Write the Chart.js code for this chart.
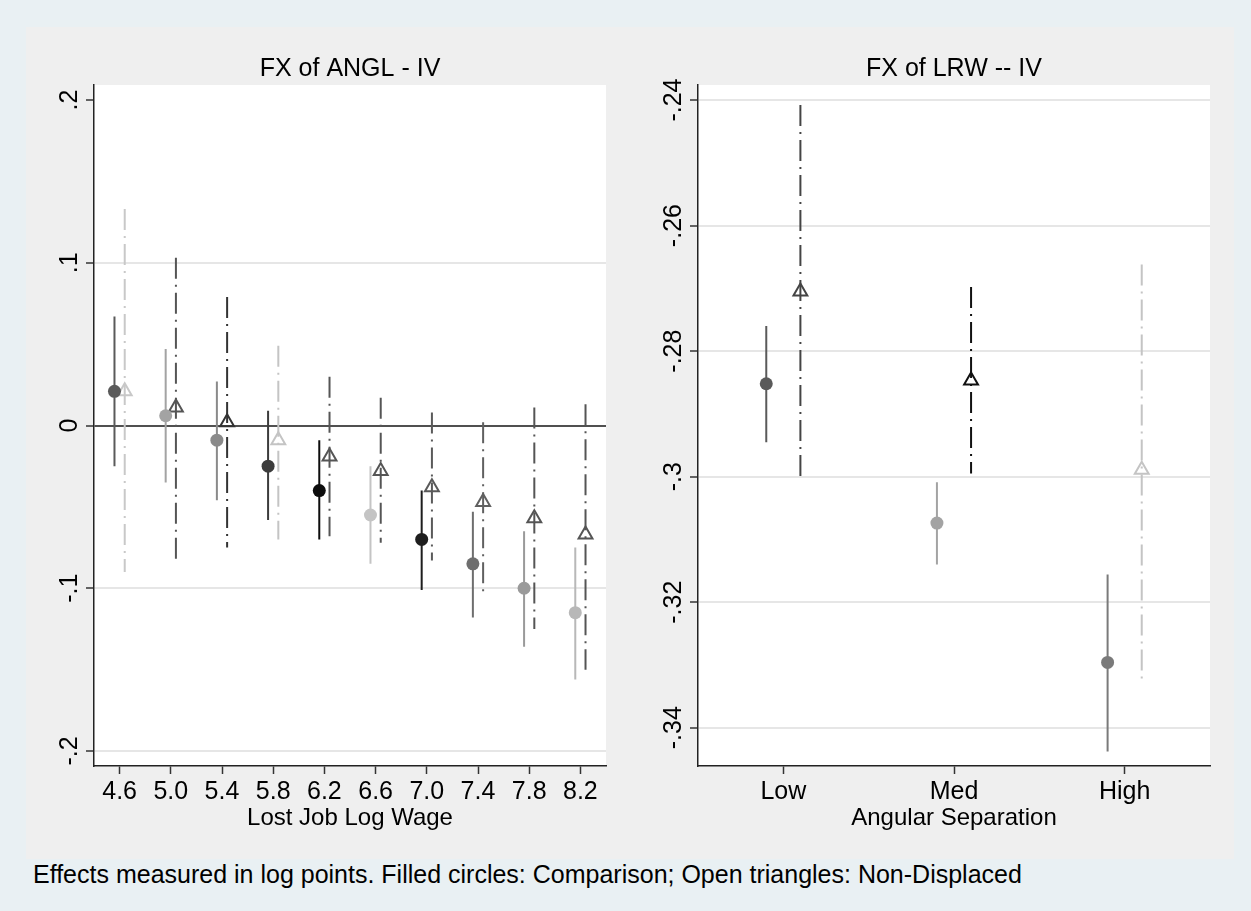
<!DOCTYPE html>
<html>
<head>
<meta charset="utf-8">
<script src="https://cdn.jsdelivr.net/npm/chart.js@4.4.1/dist/chart.umd.min.js"></script>
<style>
  html, body { margin: 0; padding: 0; background: #e9f0f3; width: 1251px; height: 911px; overflow: hidden; }
  #panel { position: absolute; left: 26px; top: 27px; width: 1208px; height: 832px; background: #efefef; }
  .box { position: absolute; top: 27px; height: 832px; }
  #boxL { left: 26px; width: 626px; }
  #boxR { left: 652px; width: 582px; }
  #note { position: absolute; left: 33px; top: 862px; font: 25px "Liberation Sans", Arial, sans-serif; line-height: 25px; color: #000; white-space: nowrap; }
</style>
</head>
<body>
<div id="panel"></div>
<div class="box" id="boxL"><canvas id="chartL"></canvas></div>
<div class="box" id="boxR"><canvas id="chartR"></canvas></div>
<div id="note">Effects measured in log points. Filled circles: Comparison; Open triangles: Non-Displaced</div>
<script>
/* Dữ liệu: bảng trái (theo lương), bảng phải (theo góc) */
const leftX = [4.6, 5.0, 5.4, 5.8, 6.2, 6.6, 7.0, 7.4, 7.8, 8.2];
const leftXTicks = [4.6, 5.0, 5.4, 5.8, 6.2, 6.6, 7.0, 7.4, 7.8, 8.2];
const leftYTicks = [-0.2, -0.1, 0, 0.1, 0.2];
const leftYLabels = ['-.2', '-.1', '0', '.1', '.2'];

const leftCmpEst = [0.021, 0.006, -0.009, -0.025, -0.040, -0.055, -0.070, -0.085, -0.100, -0.115];
const leftCmpLo  = [-0.025, -0.035, -0.046, -0.058, -0.070, -0.085, -0.101, -0.118, -0.136, -0.156];
const leftCmpHi  = [0.067, 0.047, 0.027, 0.009, -0.009, -0.025, -0.040, -0.053, -0.065, -0.075];
const leftNdEst  = [0.021, 0.011, 0.002, -0.009, -0.019, -0.028, -0.038, -0.047, -0.057, -0.067];
const leftNdLo   = [-0.090, -0.082, -0.075, -0.070, -0.068, -0.072, -0.083, -0.102, -0.125, -0.150];
const leftNdHi   = [0.133, 0.103, 0.079, 0.049, 0.030, 0.017, 0.008, 0.002, 0.011, 0.013];

const rightX = [1, 2, 3];
const rightXLabels = ['Low', 'Med', 'High'];
const rightYTicks = [-0.34, -0.32, -0.30, -0.28, -0.26, -0.24];
const rightYLabels = ['-.34', '-.32', '-.3', '-.28', '-.26', '-.24'];

const rightCmpEst = [-0.2852, -0.3074, -0.3296];
const rightCmpLo  = [-0.2945, -0.3140, -0.3438];
const rightCmpHi  = [-0.2760, -0.3009, -0.3156];
const rightNdEst  = [-0.2705, -0.2847, -0.2989];
const rightNdLo   = [-0.3001, -0.2995, -0.3327];
const rightNdHi   = [-0.2408, -0.2698, -0.2662];

/* Màu từng điểm */
const leftCmpColors = ['#5a5a5a', '#a3a3a3', '#8a8a8a', '#3c3c3c', '#0d0d0d', '#c4c4c4', '#1e1e1e', '#6e6e6e', '#9a9a9a', '#b8b8b8'];
const leftNdColors  = ['#c8c8c8', '#555555', '#333333', '#c4c4c4', '#555555', '#555555', '#5a5a5a', '#606060', '#555555', '#555555'];
const rightCmpColors = ['#5a5a5a', '#a3a3a3', '#7a7a7a'];
const rightNdColors  = ['#444444', '#111111', '#c4c4c4'];

const FONT = '"Liberation Sans", Arial, sans-serif';
const DASHDOT = [21, 6, 2, 6];

// Đoạn CI: mỗi điểm một dataset đường thẳng đứng
const ciSets = (xs, off, lo, hi, colors, dash) => xs.map((x, i) => ({
    type: 'line', data: [{ x: x + off, y: hi[i] }, { x: x + off, y: lo[i] }],
    borderColor: colors[i], borderWidth: 2, borderDash: dash, borderCapStyle: 'butt',
    pointRadius: 0, fill: false, order: 3
}));

const pts = (xs, off, ys) => xs.map((x, i) => ({ x: x + off, y: ys[i] }));

/* Chữ: tiêu đề, nhãn trục y xoay dọc, tên trục x */
const textPlugin = {
    id: 'panelText',
    afterDraw(chart, args, opts) {
        const { ctx, chartArea: a } = chart;
        const ys = chart.scales.y;
        ctx.save();
        ctx.fillStyle = '#000';
        ctx.textAlign = 'center';
        ctx.textBaseline = 'alphabetic';
        ctx.font = '25px ' + FONT;
        ctx.fillText(opts.title, (a.left + a.right) / 2, a.top - 9);
        ctx.font = '24px ' + FONT;
        ctx.fillText(opts.xTitle, (a.left + a.right) / 2, a.bottom + 59);
        ctx.font = '25px ' + FONT;
        opts.yTicks.forEach((v, i) => {
            ctx.save();
            ctx.translate(a.left - 17, ys.getPixelForValue(v));
            ctx.rotate(-Math.PI / 2);
            ctx.fillText(opts.yLabels[i], 0, 0);
            ctx.restore();
        });
        ctx.restore();
    }
};

function drawPanel(canvasId, cfg) {
    const yTicks = cfg.yTicks;
    return new Chart(document.getElementById(canvasId).getContext('2d'), {
        type: 'scatter',
        data: {
            datasets: [
                ...ciSets(cfg.x, -cfg.off, cfg.cmpLo, cfg.cmpHi, cfg.cmpColors, []),
                ...ciSets(cfg.x, cfg.off, cfg.ndLo, cfg.ndHi, cfg.ndColors, DASHDOT),
                {
                    label: 'Comparison', data: pts(cfg.x, -cfg.off, cfg.cmpEst),
                    pointStyle: 'circle', pointRadius: 6.5, pointBorderWidth: 0,
                    pointBackgroundColor: cfg.cmpColors, pointBorderColor: cfg.cmpColors, order: 1
                },
                {
                    label: 'Non-Displaced', data: pts(cfg.x, cfg.off, cfg.ndEst),
                    pointStyle: 'triangle', pointRadius: 8, pointBorderWidth: 2,
                    pointBackgroundColor: 'rgba(0,0,0,0)', pointBorderColor: cfg.ndColors, order: 2
                }
            ]
        },
        options: {
            responsive: true, maintainAspectRatio: false, animation: false,
            layout: { padding: { left: 0, top: 58, right: cfg.padRight, bottom: 0 } },
            plugins: {
                legend: { display: false }, tooltip: { enabled: false },
                panelText: { title: cfg.title, xTitle: cfg.xTitle, yTicks: cfg.yTicks, yLabels: cfg.yLabels }
            },
            scales: {
                x: {
                    type: 'linear', min: cfg.xMin, max: cfg.xMax,
                    afterBuildTicks: s => { s.ticks = cfg.xTicks.map(v => ({ value: v })); },
                    afterFit: s => { s.height = 93; },
                    ticks: { callback: cfg.xFmt, color: '#000', font: { family: FONT, size: 25 }, padding: 3, maxRotation: 0, autoSkip: false },
                    grid: { drawOnChartArea: false, tickLength: 8, tickColor: '#333', tickWidth: 1.5 },
                    border: { color: '#222', width: 1.5 }
                },
                y: {
                    type: 'linear', min: cfg.yMin, max: cfg.yMax,
                    afterBuildTicks: s => { s.ticks = yTicks.map(v => ({ value: v })); },
                    afterFit: s => { s.width = cfg.yWidth; },
                    ticks: { display: false },
                    grid: {
                        color: c => {
                            if (!c.tick) return '#e6e6e6';
                            if (Math.abs(c.tick.value) < 1e-9 && cfg.zeroLine) return '#505050';
                            if (cfg.noGrid.some(v => Math.abs(v - c.tick.value) < 1e-9)) return 'rgba(0,0,0,0)';
                            return '#e6e6e6';
                        },
                        lineWidth: 2, tickLength: 8, tickColor: '#333', tickWidth: 1.5
                    },
                    border: { color: '#222', width: 1.5 }
                }
            }
        },
        plugins: [textPlugin, {
            id: 'whiteArea',
            beforeDraw(chart) {
                const { ctx, chartArea: a } = chart;
                ctx.save(); ctx.fillStyle = '#fff';
                ctx.fillRect(a.left, a.top, a.right - a.left, a.bottom - a.top);
                ctx.restore();
            }
        }]
    });
}

drawPanel('chartL', {
    title: 'FX of ANGL - IV', xTitle: 'Lost Job Log Wage',
    x: leftX, off: 0.04, xMin: 4.4, xMax: 8.4, xTicks: leftXTicks, xFmt: v => Number(v).toFixed(1),
    yMin: -0.2092, yMax: 0.2092, yTicks: leftYTicks, yLabels: leftYLabels, yWidth: 68, padRight: 46,
    zeroLine: true, noGrid: [0.2],
    cmpEst: leftCmpEst, cmpLo: leftCmpLo, cmpHi: leftCmpHi, cmpColors: leftCmpColors,
    ndEst: leftNdEst, ndLo: leftNdLo, ndHi: leftNdHi, ndColors: leftNdColors
});

drawPanel('chartR', {
    title: 'FX of LRW -- IV', xTitle: 'Angular Separation',
    x: rightX, off: 0.1, xMin: 0.5, xMax: 3.5, xTicks: rightX, xFmt: (v) => rightXLabels[rightX.indexOf(Math.round(v))] || '',
    yMin: -0.3461, yMax: -0.2376, yTicks: rightYTicks, yLabels: rightYLabels, yWidth: 46, padRight: 24,
    zeroLine: false, noGrid: [],
    cmpEst: rightCmpEst, cmpLo: rightCmpLo, cmpHi: rightCmpHi, cmpColors: rightCmpColors,
    ndEst: rightNdEst, ndLo: rightNdLo, ndHi: rightNdHi, ndColors: rightNdColors
});
</script>
</body>
</html>
